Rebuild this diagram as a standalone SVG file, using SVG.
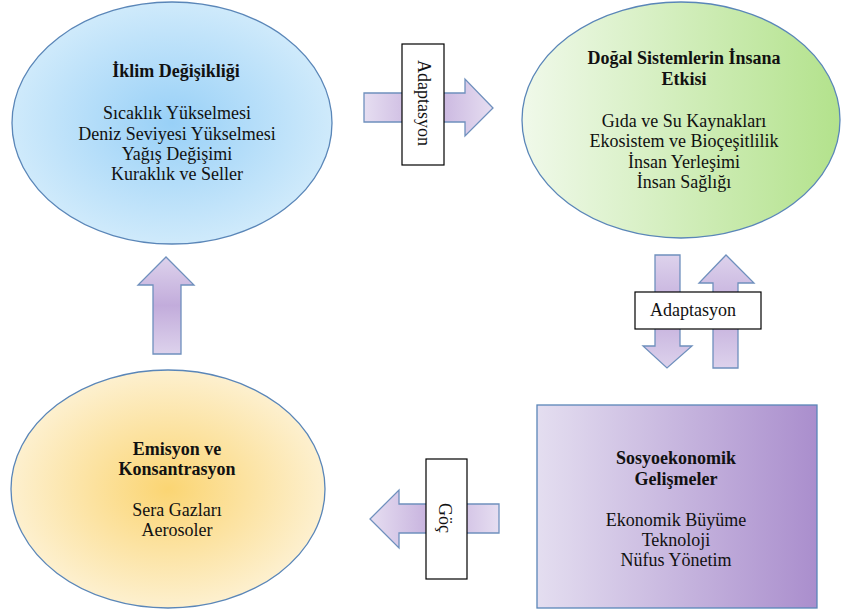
<svg xmlns="http://www.w3.org/2000/svg" width="841" height="612" viewBox="0 0 841 612">
<style>
text{font-family:"Liberation Serif","Times New Roman",serif;font-size:18px;fill:#111;text-anchor:middle}
.b{font-weight:bold}
.node{stroke:#5a86b8;stroke-width:1.3}
.arr{stroke:#6f90bd;stroke-width:1.3}
.lbl{fill:#fff;stroke:#000;stroke-width:1.2}
</style>
<defs>
<radialGradient id="gBlue" cx="0.5" cy="0.5" r="0.5">
<stop offset="0" stop-color="#98d0f7"/><stop offset="1" stop-color="#cfeafb"/>
</radialGradient>
<linearGradient id="gGreen" x1="0" y1="0" x2="1" y2="0">
<stop offset="0" stop-color="#f0f9ea"/><stop offset="1" stop-color="#b3e28c"/>
</linearGradient>
<radialGradient id="gOrange" cx="0.5" cy="0.5" r="0.5">
<stop offset="0" stop-color="#fbd573"/><stop offset="1" stop-color="#fdf0cf"/>
</radialGradient>
<linearGradient id="gPurple" x1="0" y1="0" x2="1" y2="0">
<stop offset="0" stop-color="#e4def0"/><stop offset="1" stop-color="#aa8ecd"/>
</linearGradient>
<linearGradient id="gArrH" x1="0" y1="0" x2="1" y2="0">
<stop offset="0" stop-color="#e6def1"/><stop offset="0.5" stop-color="#c4aedc"/><stop offset="1" stop-color="#e6def1"/>
</linearGradient>
<linearGradient id="gArrV" x1="0" y1="0" x2="0" y2="1">
<stop offset="0" stop-color="#ddd2ec"/><stop offset="0.5" stop-color="#c2acdb"/><stop offset="1" stop-color="#ddd2ec"/>
</linearGradient>
</defs>

<g id="connectors">
<polygon class="arr" fill="url(#gArrH)" points="364,93 465,93 465,79 493,108 465,136 465,122 364,122"/>
<polygon class="arr" fill="url(#gArrV)" points="655,255 680,255 680,346 692,346 667,368 643,346 655,346"/>
<polygon class="arr" fill="url(#gArrV)" points="713,368 738,368 738,283 754,283 726,255 699,283 713,283"/>
<polygon class="arr" fill="url(#gArrH)" points="499,504 399,504 399,490 370,519 399,548 399,533 499,533"/>
<polygon class="arr" fill="url(#gArrV)" points="153,354 181,354 181,285 194,285 166,257 138,285 153,285"/>
</g>

<g id="label-adaptasyon-top">
<rect class="lbl" x="402" y="44" width="42" height="121"/>
<text transform="translate(423,103) rotate(90)" y="5">Adaptasyon</text>
</g>
<g id="label-adaptasyon-mid">
<rect class="lbl" x="635" y="292" width="126" height="37"/>
<text x="693" y="316">Adaptasyon</text>
</g>
<g id="label-goc">
<rect class="lbl" x="426" y="459" width="41" height="120"/>
<text transform="translate(446,518) rotate(90)" y="7">Göç</text>
</g>

<g id="iklim">
<ellipse class="node" fill="url(#gBlue)" cx="172" cy="123" rx="160" ry="121"/>
<text class="b" x="176" y="77">İklim Değişikliği</text>
<text x="177" y="119">Sıcaklık Yükselmesi</text>
<text x="177" y="140">Deniz Seviyesi Yükselmesi</text>
<text x="177" y="160">Yağış Değişimi</text>
<text x="177" y="180">Kuraklık ve Seller</text>
</g>

<g id="dogal">
<ellipse class="node" fill="url(#gGreen)" cx="681" cy="120" rx="159" ry="118"/>
<text class="b" x="684" y="64">Doğal Sistemlerin İnsana</text>
<text class="b" x="684" y="85">Etkisi</text>
<text x="684" y="127">Gıda ve Su Kaynakları</text>
<text x="684" y="147">Ekosistem ve Bioçeşitlilik</text>
<text x="684" y="168">İnsan Yerleşimi</text>
<text x="684" y="188">İnsan Sağlığı</text>
</g>

<g id="emisyon">
<ellipse class="node" fill="url(#gOrange)" cx="168" cy="489" rx="157" ry="119"/>
<text class="b" x="177" y="455">Emisyon ve</text>
<text class="b" x="177" y="475">Konsantrasyon</text>
<text x="177" y="516">Sera Gazları</text>
<text x="177" y="536">Aerosoler</text>
</g>

<g id="sosyo">
<rect class="node" fill="url(#gPurple)" x="537" y="405" width="280" height="203"/>
<text class="b" x="676" y="464">Sosyoekonomik</text>
<text class="b" x="676" y="485">Gelişmeler</text>
<text x="676" y="526">Ekonomik Büyüme</text>
<text x="676" y="546">Teknoloji</text>
<text x="676" y="566">Nüfus Yönetim</text>
</g>
</svg>
